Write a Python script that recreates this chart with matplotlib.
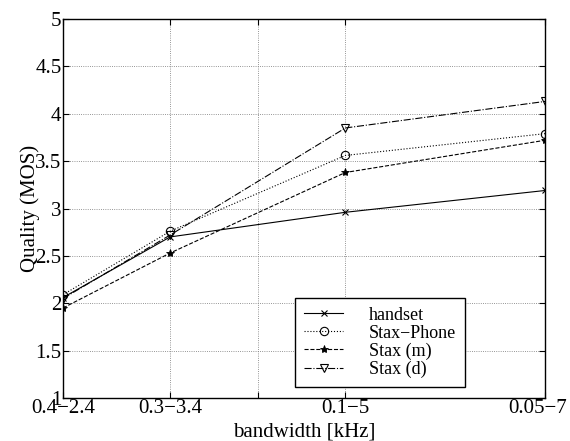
import numpy as np
import matplotlib.pyplot as plt
import matplotlib.transforms as mtrans

plt.rcParams['font.family'] = ['Liberation Serif', 'DejaVu Serif']

bw = [2.0, 3.1, 4.9, 6.95]            # upper minus lower band edge, kHz
tick_pos = [2.0, 3.1, 4.0, 4.9, 6.95]
tick_lab = ['0.4\u22122.4', '0.3\u22123.4', '', '0.1\u22125', '0.05\u22127']

handset = [2.06, 2.70, 2.96, 3.19]
stax_phone = [2.09, 2.76, 3.56, 3.79]
stax_m = [1.95, 2.53, 3.38, 3.72]
stax_d = [2.05, 2.72, 3.85, 4.13]

fig = plt.figure(figsize=(5.7, 4.41), dpi=100)
ax = fig.add_axes([63/570, 43/441, 482/570, 379/441])

ax.plot(bw, handset, 'k-', marker='x', ms=4, mew=0.8, lw=0.8, label='handset')
ax.plot(bw, stax_phone, 'k:', marker='o', ms=6, mfc='none', mew=0.8, lw=0.8, label='Stax\u2212Phone')
ax.plot(bw, stax_m, 'k--', marker='*', ms=6, mfc='k', mew=0.6, lw=0.8, label='Stax (m)')
ax.plot(bw, stax_d, 'k-.', marker='v', ms=6, mfc='none', mew=0.8, lw=0.8, label='Stax (d)')

ax.set_xlim(2.0, 6.95)
ax.set_ylim(1, 5)
ax.set_xticks(tick_pos)
ax.set_xticklabels(tick_lab)
ax.set_yticks(np.arange(1, 5.01, 0.5))
ax.set_yticklabels(['1', '1.5', '2', '2.5', '3', '3.5', '4', '4.5', '5'])
ax.tick_params(direction='in', top=True, right=True, labelsize=15, length=4)
ax.tick_params(axis='x', pad=1)
ax.tick_params(axis='y', pad=1)
ax.grid(True, linestyle=':', color='0.45', lw=0.6)
for s in ax.spines.values():
    s.set_linewidth(1.0)

# last label sits against the figure edge, as in the original
last = ax.get_xticklabels()[-1]
last.set_horizontalalignment('right')
last.set_transform(last.get_transform() + mtrans.ScaledTranslation(0.22, 0, fig.dpi_scale_trans))

ax.set_xlabel('bandwidth [kHz]', fontsize=15, labelpad=3)
ax.set_ylabel('Quality (MOS)', fontsize=15, labelpad=-3)

leg = ax.legend(loc='lower right', bbox_to_anchor=(465/570, 54/441),
                bbox_transform=fig.transFigure, fontsize=13, fancybox=False,
                framealpha=1, edgecolor='k', borderpad=0.5, labelspacing=0.05,
                handlelength=2.2, handletextpad=1.4, borderaxespad=0)
leg.get_frame().set_linewidth(1.0)

plt.savefig('out.png')
